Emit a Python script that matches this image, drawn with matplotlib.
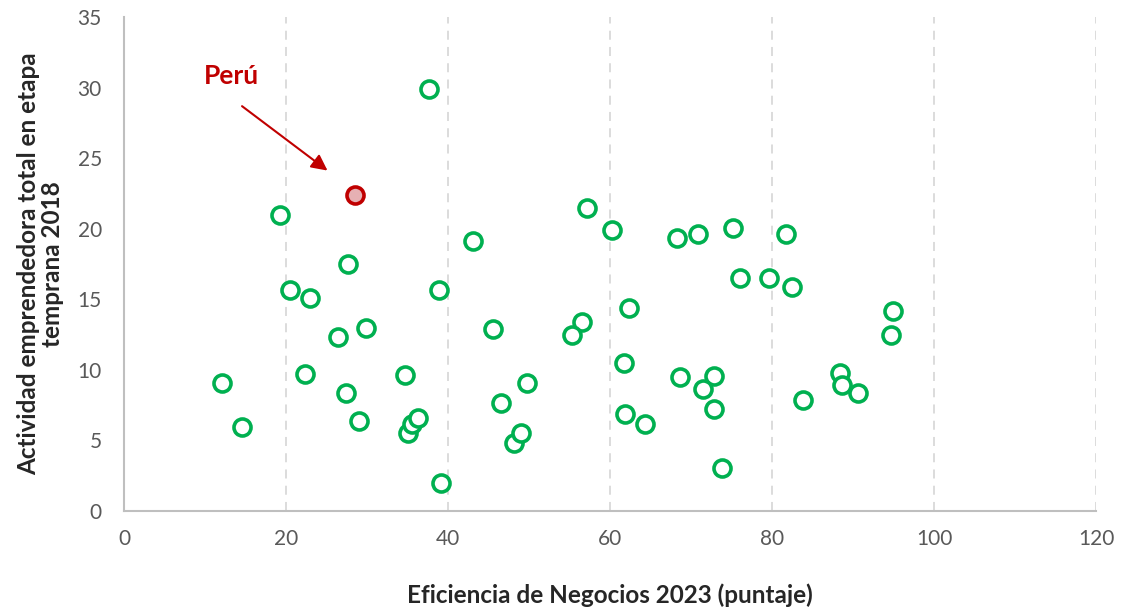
import matplotlib.pyplot as plt

# Datos
eficiencia = [12.1, 14.6, 19.3, 20.5, 22.3, 23.0, 26.4, 27.7, 27.4, 29.0, 29.9,
              34.7, 35.1, 35.6, 36.3, 37.7, 38.9, 39.1, 43.1, 45.6, 46.6, 48.1,
              49.0, 49.8, 57.2, 60.2, 68.3, 70.9, 75.2, 81.7, 76.0, 79.6, 82.5,
              62.3, 56.5, 55.3, 94.9, 94.7, 61.7, 68.6, 72.8, 71.5, 88.4, 88.7,
              90.6, 83.8, 61.9, 64.3, 72.8, 73.8]
tea = [9.07, 5.95, 20.98, 15.66, 9.7, 15.1, 12.3, 17.5, 8.36, 6.38, 12.97,
       9.64, 5.53, 6.17, 6.6, 29.9, 15.66, 1.98, 19.1, 12.9, 7.65, 4.82,
       5.53, 9.07, 21.5, 19.9, 19.35, 19.6, 20.05, 19.6, 16.5, 16.5, 15.9,
       14.4, 13.4, 12.5, 14.2, 12.5, 10.5, 9.5, 9.57, 8.65, 9.78, 8.93,
       8.36, 7.87, 6.87, 6.17, 7.23, 3.05]
peru_x, peru_y = 28.5, 22.4

plt.rcParams['font.family'] = ['Lato', 'DejaVu Sans']

fig = plt.figure(figsize=(11.21, 6.11), dpi=100)
ax = fig.add_axes([0.1106, 0.1637, 0.8671, 0.8085])

ax.scatter(eficiencia, tea, s=150, facecolors='white', edgecolors='#00B050',
           linewidths=2.6, zorder=3)
ax.scatter([peru_x], [peru_y], s=150, facecolors='#E6B0B3', edgecolors='#C00000',
           linewidths=2.6, zorder=4)

ax.annotate('', xy=(25.4, 24.0), xytext=(14.3, 28.8),
            arrowprops=dict(arrowstyle='-|>', color='#C00000', lw=1.5,
                            mutation_scale=24))
ax.text(13.3, 30.8, 'Perú', color='#C00000', fontsize=19, fontweight='bold',
        ha='center', va='center')

ax.set_xlim(0, 120)
ax.set_ylim(0, 35)
ax.set_xticks(range(0, 121, 20))
ax.set_yticks(range(0, 36, 5))
ax.tick_params(length=0, labelsize=15, labelcolor='#595959')
ax.tick_params(axis='x', pad=13)
ax.tick_params(axis='y', pad=16)
ax.xaxis.grid(True, linestyle=(0, (5, 4)), color='#D9D9D9', linewidth=1.3)
ax.set_axisbelow(True)
for s in ['top', 'right']:
    ax.spines[s].set_visible(False)
for s in ['left', 'bottom']:
    ax.spines[s].set_color('#BFBFBF')
    ax.spines[s].set_linewidth(1.5)

ax.set_xlabel('Eficiencia de Negocios 2023 (puntaje)', fontsize=17.5,
              fontweight='bold', color='#262626', labelpad=25)
ax.set_ylabel('Actividad emprendedora total en etapa\ntemprana 2018', fontsize=17.5,
              fontweight='bold', color='#262626', labelpad=10, linespacing=1.05)

fig.savefig('out.png', dpi=100)
